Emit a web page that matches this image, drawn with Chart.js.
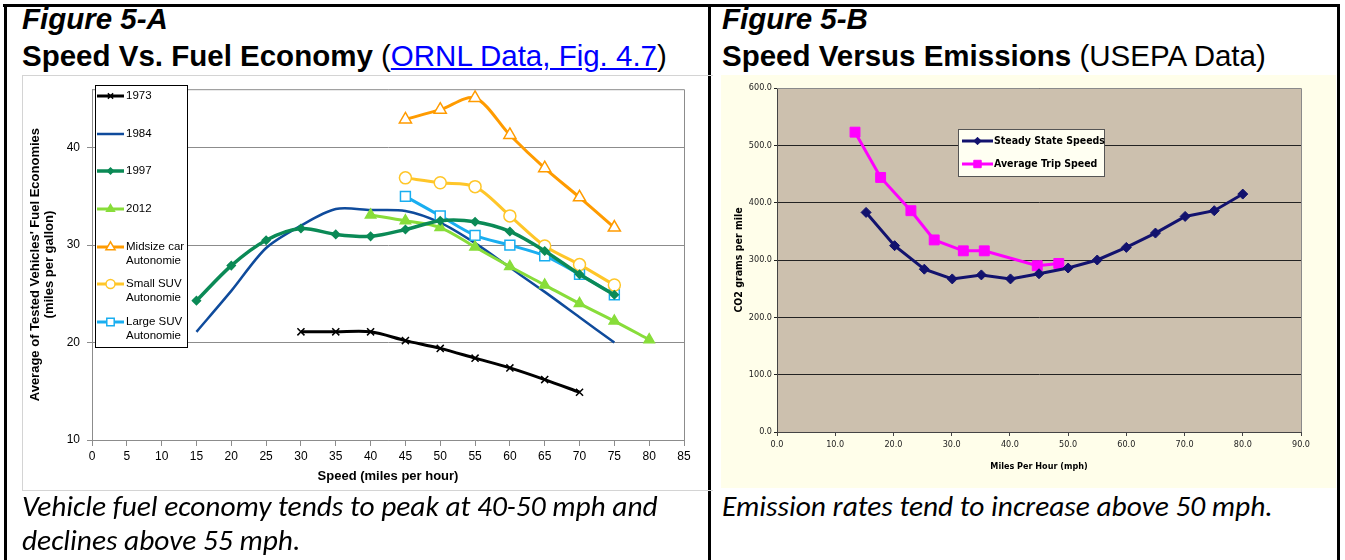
<!DOCTYPE html>
<html>
<head>
<meta charset="utf-8">
<script src="https://cdn.jsdelivr.net/npm/chart.js"></script>
<style>
  body { margin: 0; background: #fff; }
  #page { position: relative; width: 1345px; height: 560px; overflow: hidden; font-family: "Liberation Sans", Arial, sans-serif; }
  .bar { position: absolute; background: #000; }
  .txt { position: absolute; white-space: nowrap; color: #000; }
  .fig { font-size: 29.5px; font-weight: bold; font-style: italic; line-height: 32px; }
  .head { font-size: 29.5px; line-height: 32px; }
  .head b { font-weight: bold; }
  .head a { color: #0000ff; text-decoration: underline; }
  .cap { font-family: Carlito, Lato, "Open Sans", sans-serif; font-style: italic; font-size: 29.4px; line-height: 34px; }
  #frameA { position: absolute; left: 22px; top: 75px; width: 690px; height: 414px; border-left: 1px solid #d4d4d4; border-top: 1px solid #d4d4d4; border-bottom: 1px solid #d4d4d4; }
  #wrapA { position: absolute; left: 23px; top: 75px; }
  #wrapB { position: absolute; left: 721px; top: 75px; background: #fffeea; }
</style>
</head>
<body>
<div id="page">
  <div class="bar" style="left:3px;top:4px;width:1337px;height:3px"></div>
  <div class="bar" style="left:4px;top:4px;width:3px;height:556px"></div>
  <div class="bar" style="left:708px;top:4px;width:3px;height:556px"></div>
  <div class="bar" style="left:1337px;top:4px;width:3px;height:556px"></div>

  <div class="txt fig" style="left:22px;top:3px">Figure 5-A</div>
  <div class="txt head" style="left:22px;top:40px"><b>Speed Vs. Fuel Economy</b> (<a href="#">ORNL Data, Fig. 4.7</a>)</div>
  <div class="txt fig" style="left:722px;top:3px">Figure 5-B</div>
  <div class="txt head" style="left:722px;top:40px"><b>Speed Versus Emissions</b> (USEPA Data)</div>

  <div id="frameA"></div>
  <div id="wrapA"><canvas id="chartA" width="680" height="415"></canvas></div>
  <div id="wrapB"><canvas id="chartB" width="615" height="413"></canvas></div>

  <div class="txt cap" style="left:22px;top:489px">Vehicle fuel economy tends to peak at 40-50 mph and<br>declines above 55 mph.</div>
  <div class="txt cap" style="left:722px;top:489px">Emission rates tend to increase above 50 mph.</div>
</div>
<script>
// ---- Figure 5-A data (mph vs mpg) ----
const mphA = [15, 20, 25, 30, 35, 40, 45, 50, 55, 60, 65, 70, 75, 80];
const mpg1973 = [null, null, null, 21.1, 21.1, 21.1, 20.2, 19.4, 18.4, 17.4, 16.2, 14.9, null, null];
const mpg1984 = [21.1, 25.3, 29.7, 32.0, 33.7, 33.6, 33.5, 32.3, 30.2, 27.7, 25.2, 22.6, 20.0, null];
const mpg1997 = [24.3, 27.9, 30.5, 31.7, 31.1, 30.9, 31.6, 32.5, 32.4, 31.4, 29.4, 27.0, 24.9, null];
const mpg2012 = [null, null, null, null, null, 33.1, 32.5, 31.8, 29.8, 27.8, 25.9, 24.0, 22.2, 20.3];
const mpgMidsize = [null, null, null, null, null, null, 42.9, 43.9, 45.1, 41.3, 37.9, 34.9, 31.8, null];
const mpgSmallSuv = [null, null, null, null, null, null, 36.9, 36.4, 36.0, 33.0, 29.9, 28.0, 25.9, null];
const mpgLargeSuv = [null, null, null, null, null, null, 35.0, 33.0, 31.0, 30.0, 28.9, 27.0, 24.9, null];
const ticksA = [10, 20, 30, 40];

// ---- Figure 5-B data (mph vs CO2 g/mile) ----
const mphSteady = [15.3, 20.2, 25.3, 30.1, 35.1, 40.1, 45.0, 50.0, 55.0, 60.0, 65.0, 70.1, 75.1, 80.0];
const co2Steady = [383, 325, 284, 267, 274, 267, 276, 286, 300, 322, 347, 376, 386, 415];
const mphTrip = [13.4, 17.8, 23.0, 27.0, 32.0, 35.6, 44.7, 48.4];
const co2Trip = [523, 444, 386, 335, 316, 316, 290, 294];

function pts(xs, ys) {
    return xs.map((x, i) => ({ x: x, y: ys[i] })).filter(p => p.y !== null);
}

Chart.defaults.font.family = '"Liberation Sans", Arial, sans-serif';
Chart.defaults.color = '#000';

// legend drawn as a box inside the plot
const boxLegend = {
    id: 'boxLegend',
    afterDraw(chart, args, o) {
        if (!o || !o.rows) return;
        const ctx = chart.ctx;
        ctx.save();
        ctx.fillStyle = o.fill;
        ctx.fillRect(o.left, o.top, o.width, o.height);
        ctx.strokeStyle = o.border;
        ctx.lineWidth = 1;
        ctx.strokeRect(o.left + 0.5, o.top + 0.5, o.width, o.height);
        ctx.font = o.font;
        ctx.textBaseline = 'middle';
        chart.data.datasets.forEach((ds, i) => {
            const y = o.rows[i];
            ctx.strokeStyle = ds.borderColor;
            ctx.lineWidth = ds.borderWidth;
            ctx.beginPath();
            ctx.moveTo(o.lineX0, y);
            ctx.lineTo(o.lineX1, y);
            ctx.stroke();
            if (ds.pointRadius > 0) {
                ctx.fillStyle = ds.pointBackgroundColor;
                ctx.strokeStyle = ds.pointBorderColor;
                ctx.lineWidth = ds.pointBorderWidth;
                Chart.helpers.drawPoint(ctx, {
                    pointStyle: ds.pointStyle,
                    radius: ds.pointRadius * 0.75,
                    rotation: 0,
                    borderWidth: ds.pointBorderWidth
                }, (o.lineX0 + o.lineX1) / 2, y);
            }
            ctx.fillStyle = o.color;
            ds.label.split('\n').forEach((line, k) => {
                ctx.fillText(line, o.textX, y + k * o.lineGap);
            });
        });
        ctx.restore();
    }
};

// plot border / background
const plotBox = {
    id: 'plotBox',
    beforeDraw(chart, args, o) {
        if (!o || !o.fill) return;
        const a = chart.chartArea;
        chart.ctx.save();
        chart.ctx.fillStyle = o.fill;
        chart.ctx.fillRect(a.left, a.top, a.right - a.left, a.bottom - a.top);
        chart.ctx.restore();
    },
    beforeDatasetsDraw(chart, args, o) {
        if (!o || !o.stroke) return;
        const a = chart.chartArea;
        const ctx = chart.ctx;
        ctx.save();
        ctx.strokeStyle = o.stroke;
        ctx.lineWidth = 1;
        ctx.beginPath();
        ctx.moveTo(a.left, a.top + 0.5);
        ctx.lineTo(a.right + 0.5, a.top + 0.5);
        ctx.lineTo(a.right + 0.5, a.bottom);
        ctx.stroke();
        ctx.restore();
    }
};

function lineSet(label, xs, ys, color, width, style, radius, bg, order) {
    return {
        label: label,
        data: pts(xs, ys),
        borderColor: color,
        borderWidth: width,
        pointStyle: style,
        pointRadius: radius,
        pointBackgroundColor: bg,
        pointBorderColor: color,
        pointBorderWidth: 1.5,
        tension: 0.3,
        fill: false,
        order: order
    };
}

const ctxA = document.getElementById('chartA').getContext('2d');
const chartA = new Chart(ctxA, {
    type: 'line',
    data: {
        datasets: [
            lineSet('1973', mphA, mpg1973, '#000000', 3, 'crossRot', 5, '#000000', 0),
            lineSet('1984', mphA, mpg1984, '#0f4b9c', 2.5, 'circle', 0, '#0f4b9c', 1),
            lineSet('1997', mphA, mpg1997, '#0b8a56', 3.5, 'rectRot', 4, '#0b8a56', 0),
            lineSet('2012', mphA, mpg2012, '#88dd3a', 3, 'triangle', 6, '#88dd3a', 0),
            lineSet('Midsize car\nAutonomie', mphA, mpgMidsize, '#ff9b00', 3, 'triangle', 7, '#ffffff', 0),
            lineSet('Small SUV\nAutonomie', mphA, mpgSmallSuv, '#ffc629', 3, 'circle', 6, '#ffffff', 0),
            lineSet('Large SUV\nAutonomie', mphA, mpgLargeSuv, '#19aef0', 3, 'rect', 7, '#ffffff', 0)
        ]
    },
    options: {
        responsive: false,
        animation: false,
        devicePixelRatio: 1,
        layout: { padding: { top: 5, right: 19, left: 0, bottom: 0 } },
        plugins: {
            legend: { display: false },
            tooltip: { enabled: false },
            plotBox: { stroke: '#8c8c8c' },
            boxLegend: {
                left: 72, top: 10, width: 92, height: 262,
                fill: '#ffffff', border: '#000000', color: '#000000',
                font: '11.5px "Liberation Sans", Arial, sans-serif',
                lineX0: 74, lineX1: 101, textX: 103, lineGap: 14,
                rows: [21, 59, 96, 134, 172, 209, 247]
            }
        },
        scales: {
            x: {
                type: 'linear',
                min: 0,
                max: 85,
                afterFit: axis => { axis.height = 50; },
                ticks: { stepSize: 5, font: { size: 12 }, color: '#000', padding: 3 },
                grid: { drawOnChartArea: false, drawTicks: true, tickLength: 6, color: '#8c8c8c' },
                border: { color: '#8c8c8c' },
                title: { display: true, text: 'Speed (miles per hour)', font: { size: 13, weight: 'bold' }, padding: { top: 0, bottom: 6 } }
            },
            y: {
                min: 10,
                max: 46,
                afterBuildTicks: axis => { axis.ticks = ticksA.map(v => ({ value: v })); },
                afterFit: axis => { axis.width = 69; },
                ticks: { font: { size: 12 }, color: '#000', padding: 7 },
                grid: { color: '#8c8c8c', tickLength: 5 },
                border: { color: '#8c8c8c' },
                title: {
                    display: true,
                    text: ["Average of Tested Vehicles' Fuel Economies", '(miles per gallon)'],
                    font: { size: 13, weight: 'bold', lineHeight: 1.1 },
                    padding: { top: 5, bottom: 0 }
                }
            }
        }
    },
    plugins: [plotBox, boxLegend]
});

const narrow = '"Liberation Sans Narrow", "DejaVu Sans Condensed", "Liberation Sans", sans-serif';
const ctxB = document.getElementById('chartB').getContext('2d');
const chartB = new Chart(ctxB, {
    type: 'line',
    data: {
        datasets: [
            {
                label: 'Steady State Speeds',
                data: pts(mphSteady, co2Steady),
                borderColor: '#12126e',
                borderWidth: 3,
                pointStyle: 'rectRot',
                pointRadius: 5,
                pointBackgroundColor: '#12126e',
                pointBorderColor: '#12126e',
                pointBorderWidth: 1,
                tension: 0
            },
            {
                label: 'Average Trip Speed',
                data: pts(mphTrip, co2Trip),
                borderColor: '#ff00ff',
                borderWidth: 3,
                pointStyle: 'rect',
                pointRadius: 7,
                pointBackgroundColor: '#ff00ff',
                pointBorderColor: '#ff00ff',
                pointBorderWidth: 1,
                tension: 0
            }
        ]
    },
    options: {
        responsive: false,
        animation: false,
        devicePixelRatio: 1,
        layout: { padding: { top: 13, right: 35, left: 0, bottom: 0 } },
        plugins: {
            legend: { display: false },
            tooltip: { enabled: false },
            plotBox: { fill: '#ccc0ae', stroke: '#8a8a8a' },
            boxLegend: {
                left: 237, top: 54, width: 146, height: 47,
                fill: '#fffff2', border: '#555555', color: '#000000',
                font: 'bold 10.5px ' + narrow,
                lineX0: 241, lineX1: 272, textX: 273, lineGap: 0,
                rows: [66, 89]
            }
        },
        scales: {
            x: {
                type: 'linear',
                min: 0,
                max: 90,
                afterFit: axis => { axis.height = 56; },
                ticks: { stepSize: 10, font: { size: 9, family: narrow }, color: '#222', padding: 3, callback: v => v.toFixed(1) },
                grid: { drawOnChartArea: false, tickLength: 4, color: '#444' },
                border: { color: '#444' },
                title: { display: true, text: 'Miles Per Hour (mph)', font: { size: 9, weight: 'bold', family: narrow }, padding: { top: 0, bottom: 16 } }
            },
            y: {
                min: 0,
                max: 600,
                afterFit: axis => { axis.width = 56; },
                ticks: { stepSize: 100, font: { size: 9, family: narrow }, color: '#222', padding: 2, callback: v => v.toFixed(1) },
                grid: { color: '#222', tickLength: 3 },
                border: { color: '#444' },
                title: { display: true, text: 'CO2 grams per mile', font: { size: 10.5, weight: 'bold', family: narrow }, padding: { top: 12, bottom: 0 } }
            }
        }
    },
    plugins: [plotBox, boxLegend]
});
</script>
</body>
</html>
